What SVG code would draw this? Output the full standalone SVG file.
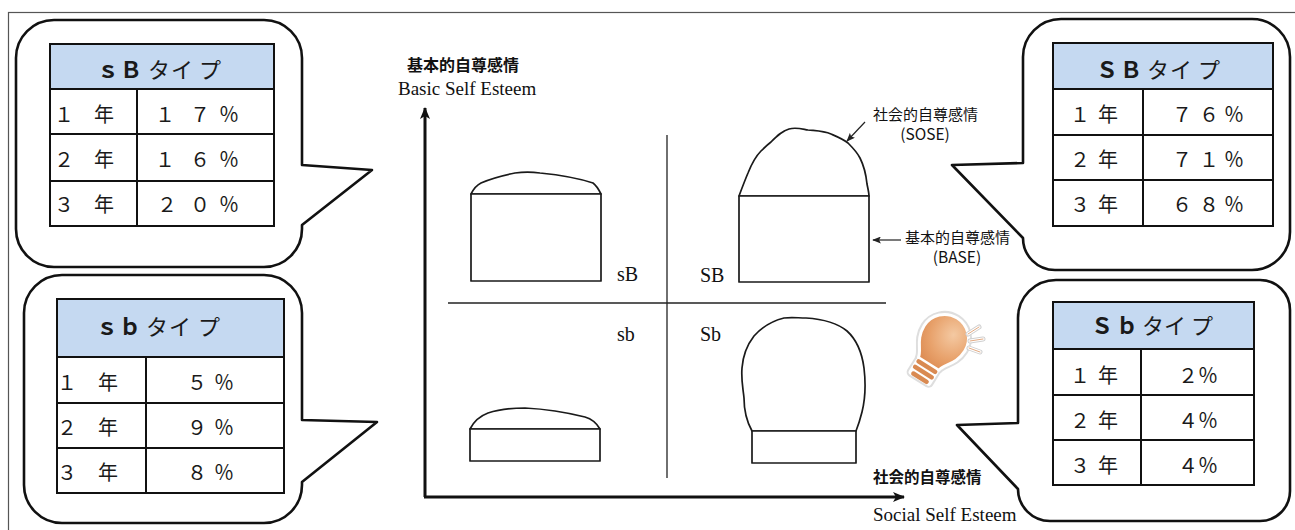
<svg xmlns="http://www.w3.org/2000/svg" width="1295" height="530" viewBox="0 0 1295 530">
  <style>
    .frame { fill: none; stroke: #555; stroke-width: 1.2; }
    .bubble { fill: #fff; stroke: #111; stroke-width: 2.6; stroke-linejoin: round; }
    .hdr { fill: #c5d9f1; }
    .grid { fill: none; stroke: #111; stroke-width: 2; }
    .th { font-family: "Noto Sans CJK JP", "Noto Sans", sans-serif; font-size: 22px; fill: #1a1a1a; text-anchor: middle; }
    .th .lat { font-family: "Liberation Sans", "Noto Sans CJK JP", sans-serif; font-weight: bold; }
    .td { font-family: "Noto Sans CJK JP", "Noto Sans", sans-serif; font-size: 20px; fill: #1a1a1a; text-anchor: middle; }
    .serif { font-family: "Liberation Serif", serif; fill: #111; }
    .jp { font-family: "Noto Sans CJK JP", sans-serif; fill: #111; }
    .axis { fill: none; stroke: #111; stroke-width: 3; }
    .div { fill: none; stroke: #222; stroke-width: 1.3; }
    .shape { fill: #fff; stroke: #1a1a1a; stroke-width: 1.7; stroke-linejoin: round; }
    .ptr { fill: none; stroke: #222; stroke-width: 1.2; }
  </style>
  <defs>
    <marker id="axhead" viewBox="0 0 12 10" refX="11" refY="5" markerWidth="12" markerHeight="10" markerUnits="userSpaceOnUse" orient="auto">
      <path d="M0,0 L12,5 L0,10 L3,5 Z" fill="#111"/>
    </marker>
    <marker id="ptrhead" viewBox="0 0 10 8" refX="9" refY="4" markerWidth="9" markerHeight="7" markerUnits="userSpaceOnUse" orient="auto">
      <path d="M0,0 L10,4 L0,8 L2,4 Z" fill="#222"/>
    </marker>
    <radialGradient id="bulbFill" cx="0.62" cy="0.3" r="0.85">
      <stop offset="0" stop-color="#f4c9a2"/>
      <stop offset="0.55" stop-color="#e8a26c"/>
      <stop offset="1" stop-color="#d9844a"/>
    </radialGradient>
  </defs>

  <!-- page frame -->
  <rect class="frame" x="8.5" y="12.5" width="1300" height="530"/>

  <!-- axes of the chart -->
  <g id="axes">
    <path class="axis" d="M425,497 V108" marker-end="url(#axhead)"/>
    <path class="axis" d="M424,497 H904" marker-end="url(#axhead)"/>
    <path class="div" d="M667,135 V478"/>
    <path class="div" d="M448,303 H886"/>
    <text class="jp" x="407" y="71" font-size="16" font-weight="bold">基本的自尊感情</text>
    <text class="serif" x="398" y="95" font-size="19">Basic Self Esteem</text>
    <text class="jp" x="873" y="483" font-size="15.5" font-weight="bold">社会的自尊感情</text>
    <text class="serif" x="873" y="521" font-size="19">Social Self Esteem</text>
  </g>

  <!-- quadrant sB -->
  <g id="quad-sB">
    <path class="shape" d="M471,194 C474,188 477,185 481,183 C492,178 505,175 515,173 C523,172 532,172 540,173 C560,175 578,178 593,183 C597,186 599,190 601,194 Z"/>
    <rect class="shape" x="471" y="194" width="130" height="87"/>
    <text class="serif" x="617" y="281" font-size="20">sB</text>
  </g>

  <!-- quadrant SB -->
  <g id="quad-SB">
    <path class="shape" d="M739,196 C742,188 745,180 748,173 C752,163 756,156 761,151 C765,147 767,145 771,142 C777,136 782,131 789,129 C796,127 802,129 808,130 C818,131 824,131 831,134 C838,137 843,139 848,143 C853,148 857,152 860,158 C864,166 866,174 867,184 C868,189 869,193 869,196 Z"/>
    <rect class="shape" x="739" y="196" width="130" height="86"/>
    <text class="serif" x="700" y="282" font-size="20">SB</text>
  </g>

  <!-- quadrant sb -->
  <g id="quad-sb">
    <path class="shape" d="M470,429 C474,421 480,416 488,413 C500,409 512,408 525,408 C545,409 565,412 585,417 C592,419 596,422 600,429 Z"/>
    <rect class="shape" x="470" y="429" width="130" height="32"/>
    <text class="serif" x="617" y="341" font-size="20">sb</text>
  </g>

  <!-- quadrant Sb -->
  <g id="quad-Sb">
    <path class="shape" d="M752,431 C747,422 744,410 744,398 C743,388 741,380 742,368 C743,355 747,345 754,336 C762,327 772,321 784,318 C792,317 798,318 806,318 C822,319 836,322 847,331 C857,340 862,353 864,368 C866,385 865,400 862,412 C860,420 858,426 856,431 Z"/>
    <rect class="shape" x="752" y="431" width="104" height="32"/>
    <text class="serif" x="700" y="341" font-size="20">Sb</text>
  </g>

  <!-- labels for the two parts of a self-esteem figure -->
  <g id="label-sose">
    <text class="jp" x="873" y="120" font-size="15">社会的自尊感情</text>
    <text class="jp" x="925" y="140" font-size="15.5" text-anchor="middle">(SOSE)</text>
  </g>
  <g id="label-base">
    <text class="jp" x="905" y="243" font-size="15">基本的自尊感情</text>
    <text class="jp" x="957" y="263" font-size="15.5" text-anchor="middle">(BASE)</text>
  </g>

  <!-- pointer connectors -->
  <g id="connectors">
    <path class="ptr" d="M865,122 L847,141" marker-end="url(#ptrhead)"/>
    <path class="ptr" d="M901,240 L873,240" marker-end="url(#ptrhead)"/>
  </g>

  <!-- light bulb icon -->
  <g id="bulb">
    <g transform="translate(936,352) rotate(32)">
      <path d="M-12,14 C-13,6 -24,0 -24,-16 A24 24 0 1 1 24,-16 C24,0 13,6 12,14 Z" fill="none" stroke="#dedede" stroke-width="7" stroke-linejoin="round"/>
      <rect x="-14" y="13" width="28" height="21" rx="4" fill="#fff" stroke="#dedede" stroke-width="2"/>
      <path d="M-12,14 C-13,6 -24,0 -24,-16 A24 24 0 1 1 24,-16 C24,0 13,6 12,14 Z" fill="url(#bulbFill)" stroke="#fff" stroke-width="3" stroke-linejoin="round"/>
      <rect x="-12" y="15" width="24" height="4.5" rx="2.2" fill="#d98a52"/>
      <rect x="-12" y="21.5" width="24" height="4.5" rx="2.2" fill="#d98a52"/>
      <rect x="-10" y="28" width="20" height="4.5" rx="2.2" fill="#d98a52"/>
    </g>
    <g fill="none" stroke-linecap="round">
      <path d="M968,334 L979,327 M970,341 L983,339 M969,348 L980,352" stroke="#d0d0d0" stroke-width="5"/>
      <path d="M968,334 L979,327 M970,341 L983,339 M969,348 L980,352" stroke="#fff" stroke-width="3"/>
      <path d="M968,334 L979,327 M970,341 L983,339 M969,348 L980,352" stroke="#e3aa82" stroke-width="1"/>
    </g>
  </g>

  <!-- callout: sB type -->
  <g id="callout-sB">
    <path class="bubble" d="M54,20 H264 A38 38 0 0 1 302,58 V165 L372,170 L302,225 V229 A38 38 0 0 1 264,267 H54 A38 38 0 0 1 16,229 V58 A38 38 0 0 1 54,20 Z"/>
    <rect class="hdr" x="50" y="44" width="224" height="45"/>
    <path class="grid" d="M50,44 H274 V226 H50 Z M50,89 H274 M50,134 H274 M50,181 H274 M137,89 V226"/>
    <text class="th" y="78"><tspan class="lat" x="108">ｓ</tspan><tspan class="lat" x="131">Ｂ</tspan><tspan x="159 182 210">タイプ</tspan></text>
    <text class="td" x="64 104" y="122">１年</text>
    <text class="td" x="165 200 229" y="122">１７％</text>
    <text class="td" x="64 104" y="167">２年</text>
    <text class="td" x="165 200 229" y="167">１６％</text>
    <text class="td" x="64 104" y="212">３年</text>
    <text class="td" x="167 200 229" y="212">２０％</text>
  </g>

  <!-- callout: sb type -->
  <g id="callout-sb">
    <path class="bubble" d="M62,275 H264 A38 38 0 0 1 302,313 V420 L377,422 L302,482 V485 A38 38 0 0 1 264,523 H62 A38 38 0 0 1 24,485 V313 A38 38 0 0 1 62,275 Z"/>
    <rect class="hdr" x="57" y="299" width="227" height="58"/>
    <path class="grid" d="M57,299 H284 V493 H57 Z M57,357 H284 M57,403 H284 M57,448 H284 M146,357 V493"/>
    <text class="th" y="335"><tspan class="lat" x="107">ｓ</tspan><tspan class="lat" x="130">ｂ</tspan><tspan x="157 180 209">タイプ</tspan></text>
    <text class="td" x="67 108" y="390">１年</text>
    <text class="td" x="197 224" y="390">５％</text>
    <text class="td" x="67 108" y="435">２年</text>
    <text class="td" x="197 224" y="435">９％</text>
    <text class="td" x="67 108" y="480">３年</text>
    <text class="td" x="197 224" y="480">８％</text>
  </g>

  <!-- callout: SB type -->
  <g id="callout-SB">
    <path class="bubble" d="M1061,19 H1252 A38 38 0 0 1 1290,57 V232 A38 38 0 0 1 1252,270 H1055 A32 32 0 0 1 1023,238 L952,165 L1023,163 V57 A38 38 0 0 1 1061,19 Z"/>
    <rect class="hdr" x="1053" y="43" width="220" height="46"/>
    <path class="grid" d="M1053,43 H1273 V226 H1053 Z M1053,89 H1273 M1053,135 H1273 M1053,180 H1273 M1143,89 V226"/>
    <text class="th" y="78"><tspan class="lat" x="1107">Ｓ</tspan><tspan class="lat" x="1131">Ｂ</tspan><tspan x="1158 1181 1209">タイプ</tspan></text>
    <text class="td" x="1080 1108" y="122">１年</text>
    <text class="td" x="1182 1209 1234" y="122">７６％</text>
    <text class="td" x="1080 1108" y="167">２年</text>
    <text class="td" x="1182 1209 1234" y="167">７１％</text>
    <text class="td" x="1080 1108" y="212">３年</text>
    <text class="td" x="1182 1209 1234" y="212">６８％</text>
  </g>

  <!-- callout: Sb type -->
  <g id="callout-Sb">
    <path class="bubble" d="M1056,280 H1260 A30 30 0 0 1 1290,310 V491 A30 30 0 0 1 1260,521 H1050 A32 32 0 0 1 1018,489 L957,425 L1018,423 V318 A38 38 0 0 1 1056,280 Z"/>
    <rect class="hdr" x="1053" y="302" width="201" height="47"/>
    <path class="grid" d="M1053,302 H1254 V485 H1053 Z M1053,349 H1254 M1053,395 H1254 M1053,440 H1254 M1141,349 V485"/>
    <text class="th" y="334"><tspan class="lat" x="1102">Ｓ</tspan><tspan class="lat" x="1127">ｂ</tspan><tspan x="1153 1175 1202">タイプ</tspan></text>
    <text class="td" x="1080 1108" y="383">１年</text>
    <text class="td" x="1188 1208" y="383">２％</text>
    <text class="td" x="1080 1108" y="428">２年</text>
    <text class="td" x="1188 1208" y="428">４％</text>
    <text class="td" x="1080 1108" y="473">３年</text>
    <text class="td" x="1188 1208" y="473">４％</text>
  </g>
</svg>
